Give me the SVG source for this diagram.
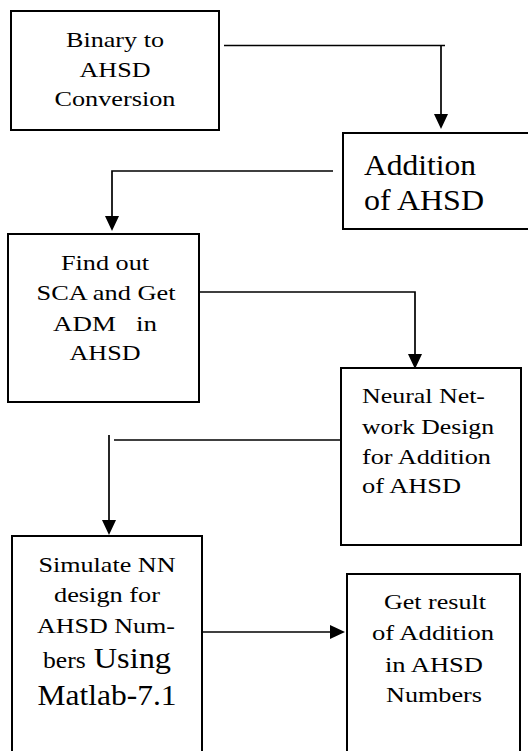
<svg xmlns="http://www.w3.org/2000/svg" width="528" height="751" viewBox="0 0 528 751">
<style>
.box{fill:#fff;stroke:#000;stroke-width:2}
.ln{fill:none;stroke:#000;stroke-width:1.7}
.s{font-size:22px}
.b{font-size:30px}
.m{text-anchor:middle}
</style>
<defs>
<marker id="arr" viewBox="0 0 15 14" refX="13" refY="7" markerWidth="15" markerHeight="14" markerUnits="userSpaceOnUse" orient="auto">
<path d="M0,0 L15,7 L0,14 Z" fill="#000"/>
</marker>
</defs>
<rect width="528" height="751" fill="#fff"/>
<g id="connectors">
<path class="ln" d="M224,45.5 H445"/>
<path class="ln" d="M441,46 V127" marker-end="url(#arr)"/>
<path class="ln" d="M333,171 H112 V229" marker-end="url(#arr)"/>
<path class="ln" d="M197,292 H415 V367" marker-end="url(#arr)"/>
<path class="ln" d="M114,440 H341"/>
<path class="ln" d="M109,435 V533" marker-end="url(#arr)"/>
<path class="ln" d="M199,632 H343" marker-end="url(#arr)"/>
</g>
<g font-family="Liberation Serif" fill="#000" lengthAdjust="spacingAndGlyphs">
<g id="n1">
<rect class="box" x="11" y="11" width="208" height="119"/>
<text class="s m" x="115" y="47" textLength="98" lengthAdjust="spacingAndGlyphs">Binary to</text>
<text class="s m" x="115" y="77" textLength="71" lengthAdjust="spacingAndGlyphs">AHSD</text>
<text class="s m" x="115" y="106" textLength="121" lengthAdjust="spacingAndGlyphs">Conversion</text>
</g>
<g id="n2">
<rect class="box" x="343" y="133" width="200" height="96"/>
<text class="b" x="364" y="175" textLength="112" lengthAdjust="spacingAndGlyphs">Addition</text>
<text class="b" x="364" y="210" textLength="120" lengthAdjust="spacingAndGlyphs">of AHSD</text>
</g>
<g id="n3">
<rect class="box" x="8" y="234" width="191" height="168"/>
<text class="s m" x="105" y="270" textLength="88" lengthAdjust="spacingAndGlyphs">Find out</text>
<text class="s m" x="106" y="300" textLength="139" lengthAdjust="spacingAndGlyphs">SCA and Get</text>
<text class="s m" x="105" y="330.5" textLength="104" lengthAdjust="spacingAndGlyphs" xml:space="preserve">ADM   in</text>
<text class="s m" x="105" y="360" textLength="71" lengthAdjust="spacingAndGlyphs">AHSD</text>
</g>
<g id="n4">
<rect class="box" x="341" y="368" width="180" height="177"/>
<text class="s" x="362" y="403" textLength="123" lengthAdjust="spacingAndGlyphs">Neural Net-</text>
<text class="s" x="362" y="434" textLength="132" lengthAdjust="spacingAndGlyphs">work Design</text>
<text class="s" x="362" y="464" textLength="129" lengthAdjust="spacingAndGlyphs">for Addition</text>
<text class="s" x="362" y="493" textLength="99" lengthAdjust="spacingAndGlyphs">of AHSD</text>
</g>
<g id="n5">
<rect class="box" x="12" y="536" width="190" height="230"/>
<text class="s m" x="107" y="572" textLength="137" lengthAdjust="spacingAndGlyphs">Simulate NN</text>
<text class="s m" x="107" y="602" textLength="106" lengthAdjust="spacingAndGlyphs">design for</text>
<text class="s m" x="106" y="633" textLength="138" lengthAdjust="spacingAndGlyphs">AHSD Num-</text>
<text class="m" x="107" y="668" textLength="128" lengthAdjust="spacingAndGlyphs"><tspan font-size="23">bers</tspan><tspan font-size="29"> Using</tspan></text>
<text class="b m" x="107" y="705" textLength="139" lengthAdjust="spacingAndGlyphs">Matlab-7.1</text>
</g>
<g id="n6">
<rect class="box" x="347" y="574" width="173" height="200"/>
<text class="s m" x="435" y="609" textLength="102" lengthAdjust="spacingAndGlyphs">Get result</text>
<text class="s m" x="433" y="640" textLength="122" lengthAdjust="spacingAndGlyphs">of Addition</text>
<text class="s m" x="434" y="671.5" textLength="98" lengthAdjust="spacingAndGlyphs">in AHSD</text>
<text class="s m" x="434" y="702" textLength="96" lengthAdjust="spacingAndGlyphs">Numbers</text>
</g>
</g>
</svg>
